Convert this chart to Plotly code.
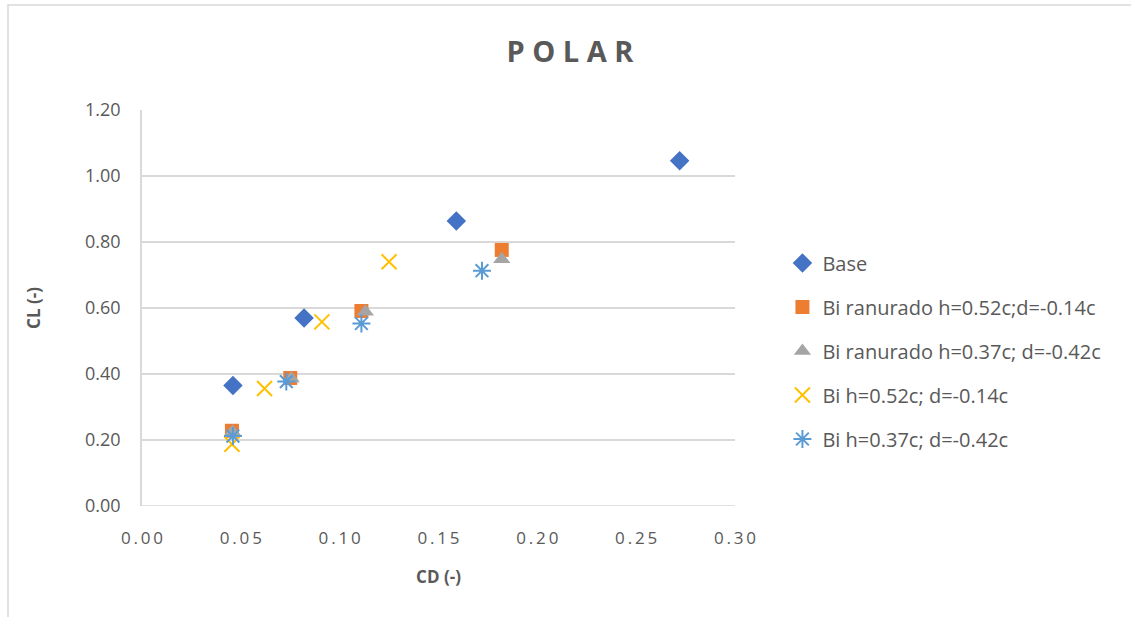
import plotly.graph_objects as go

# Polar curve data: drag coefficient (CD) vs lift coefficient (CL)
base_cd = [0.046, 0.082, 0.159, 0.272]
base_cl = [0.365, 0.570, 0.864, 1.046]

br52_cd = [0.0455, 0.075, 0.111, 0.182]
br52_cl = [0.228, 0.388, 0.591, 0.776]

br37_cd = [0.0458, 0.0755, 0.113, 0.182]
br37_cl = [0.225, 0.386, 0.589, 0.748]

bi52_cd = [0.0455, 0.062, 0.091, 0.125]
bi52_cl = [0.187, 0.356, 0.558, 0.740]

bi37_cd = [0.046, 0.073, 0.111, 0.172]
bi37_cl = [0.212, 0.377, 0.553, 0.713]

names = [
    "Base",
    "Bi ranurado h=0.52c;d=-0.14c",
    "Bi ranurado h=0.37c; d=-0.42c",
    "Bi h=0.52c; d=-0.14c",
    "Bi h=0.37c; d=-0.42c",
]

x_ticks = [0.00, 0.05, 0.10, 0.15, 0.20, 0.25, 0.30]
y_ticks = [0.00, 0.20, 0.40, 0.60, 0.80, 1.00, 1.20]

TXT = "#595959"
GRID = "#d9d9d9"
FONT = "Open Sans, Lato, sans-serif"

fig = go.Figure()

series = [
    (base_cd, base_cl, dict(symbol="diamond", size=15, color="#4472C4")),
    (br52_cd, br52_cl, dict(symbol="square", size=14, color="#ED7D31")),
    (br37_cd, br37_cl, dict(symbol="triangle-up", size=15, color="#A5A5A5")),
    (bi52_cd, bi52_cl, dict(symbol="x-thin-open", size=15, color="#FFC000",
                            line=dict(width=2, color="#FFC000"))),
    (bi37_cd, bi37_cl, dict(symbol="asterisk-open", size=15, color="#5B9BD5",
                            line=dict(width=2, color="#5B9BD5"))),
]

for i, (xs, ys, mk) in enumerate(series):
    fig.add_trace(go.Scatter(
        x=xs, y=ys, mode="markers", name=names[i], marker=mk,
        legendgroup=f"g{i}",
    ))

def spaced(s, sep="\u2009"):
    return sep.join(s)

fig.update_layout(
    width=1131, height=617,
    margin=dict(l=142, r=396, t=110, b=111),
    paper_bgcolor="white", plot_bgcolor="white",
    font=dict(family=FONT, color=TXT, size=15),
    title=dict(text="<b>" + spaced("POLAR", " ") + "</b>",
               x=570 / 1131, xref="container", xanchor="center",
               y=1 - 52 / 617, yref="container", yanchor="middle",
               font=dict(size=29, color=TXT, family=FONT)),
    showlegend=True,
    legend=dict(x=1.08, xanchor="left", y=(506 - 351) / 396, yanchor="middle",
                font=dict(size=20, color=TXT, family=FONT),
                traceorder="grouped", tracegroupgap=15,
                itemwidth=30, bgcolor="rgba(0,0,0,0)"),
    xaxis=dict(range=[0, 0.30], tickvals=x_ticks,
               ticktext=[spaced(f"{v:.2f}") for v in x_ticks],
               showgrid=False, zeroline=False,
               showline=False, ticks="outside", ticklen=17, tickcolor="rgba(0,0,0,0)",
               tickfont=dict(size=17, color=TXT),
               title=dict(text="<b>CD (-)</b>", font=dict(size=17, color=TXT), standoff=22)),
    yaxis=dict(range=[0, 1.20], tickvals=y_ticks,
               ticktext=[f"{v:.2f}" for v in y_ticks],
               showgrid=True, gridcolor=GRID, gridwidth=1.5,
               zeroline=False, showline=True, linecolor=GRID, linewidth=1.5,
               ticks="outside", ticklen=16, tickcolor="rgba(0,0,0,0)",
               tickfont=dict(size=18, color=TXT),
               title=dict(text="<b>CL (-)</b>", font=dict(size=17, color=TXT), standoff=40)),
)

# Outer chart frame
fig.add_shape(type="rect", xref="paper", yref="paper",
              x0=-134 / 593, x1=(1140 - 142) / 593,
              y0=(506 - 625) / 396, y1=(506 - 5) / 396,
              line=dict(color=GRID, width=1.5), fillcolor="rgba(0,0,0,0)", layer="below")
# Bottom axis line at CL = 0
fig.add_shape(type="line", xref="paper", yref="y", x0=0, x1=1, y0=0, y1=0,
              line=dict(color=GRID, width=1.5), layer="below")

fig.write_html("out.html")
